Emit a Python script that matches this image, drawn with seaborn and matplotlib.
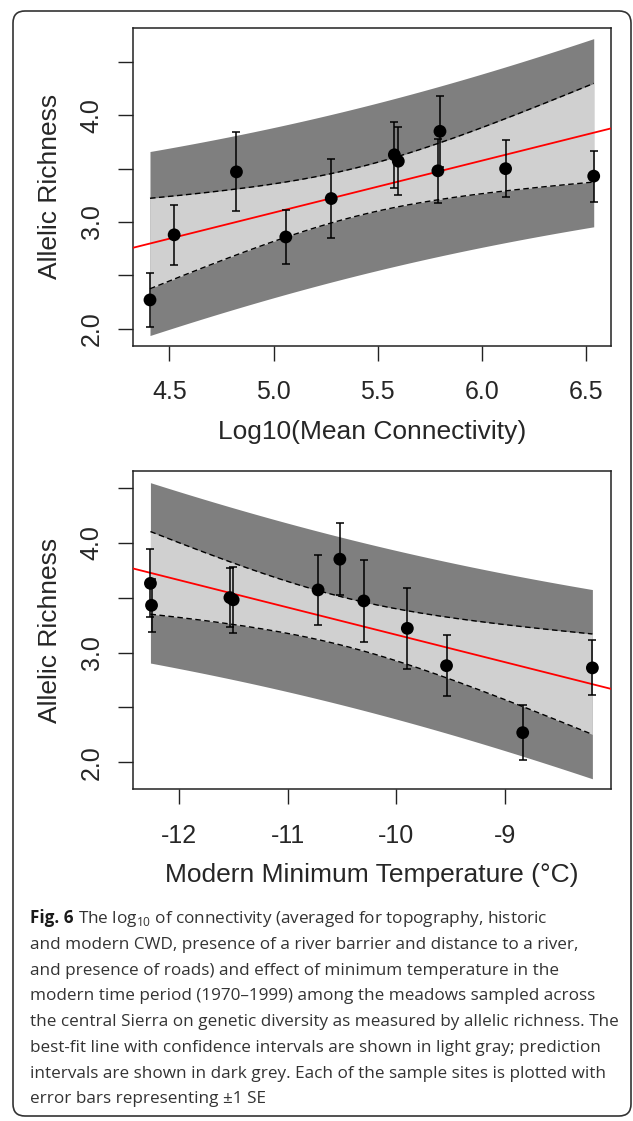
import numpy as np
import pandas as pd
import matplotlib
matplotlib.use("Agg")
import matplotlib.pyplot as plt
from matplotlib.patches import FancyBboxPatch
from matplotlib.transforms import IdentityTransform
import seaborn as sns

# values, one entry per meadow site
log_conn = [4.407, 4.523, 4.822, 5.059, 5.277, 5.580, 5.599, 5.799, 5.789, 6.114, 6.537]
min_temp = [-8.84, -9.54, -10.30, -8.20, -9.90, -12.26, -10.72, -10.52, -11.50, -11.53, -12.25]
allelic_richness = [2.27, 2.88, 3.47, 2.86, 3.22, 3.63, 3.57, 3.85, 3.48, 3.50, 3.43]
se = [0.25, 0.28, 0.37, 0.25, 0.37, 0.31, 0.32, 0.33, 0.30, 0.27, 0.24]

conn_ticks = [4.5, 5.0, 5.5, 6.0, 6.5]
conn_labels = ["4.5", "5.0", "5.5", "6.0", "6.5"]
temp_ticks = [-12, -11, -10, -9]
temp_labels = ["-12", "-11", "-10", "-9"]
ar_ticks = [2.0, 2.5, 3.0, 3.5, 4.0, 4.5]
ar_labels = ["2.0", "", "3.0", "", "4.0", ""]

caption = [
    "and modern CWD, presence of a river barrier and distance to a river,",
    "and presence of roads) and effect of minimum temperature in the",
    "modern time period (1970\u20131999) among the meadows sampled across",
    "the central Sierra on genetic diversity as measured by allelic richness. The",
    "best-fit line with confidence intervals are shown in light gray; prediction",
    "intervals are shown in dark grey. Each of the sample sites is plotted with",
    "error bars representing \u00b11 SE",
]

df = pd.DataFrame({"conn": log_conn, "temp": min_temp, "ar": allelic_richness, "se": se})

T975 = 2.262  # t quantile, 9 degrees of freedom

sns.set_style("ticks")
plt.rcParams["font.family"] = ["Liberation Sans", "DejaVu Sans"]

DARK = "#7f7f7f"
LIGHT = "#d0d0d0"
W, H = 633, 1121


def fit_panel(ax, xcol, xlim, ylim, xticks, xlabels, xlabel, xlab_y):
    x = df[xcol].to_numpy()
    y = df["ar"].to_numpy()
    b1, b0 = np.polyfit(x, y, 1)
    n = len(x)
    s = np.sqrt(np.sum((y - (b0 + b1 * x)) ** 2) / (n - 2))
    sxx = np.sum((x - x.mean()) ** 2)
    grid = np.linspace(x.min(), x.max(), 200)
    fit = b0 + b1 * grid
    ci = T975 * s * np.sqrt(1 / n + (grid - x.mean()) ** 2 / sxx)
    pi = T975 * s * np.sqrt(1 + 1 / n + (grid - x.mean()) ** 2 / sxx)

    ax.fill_between(grid, fit - pi, fit + pi, color=DARK, lw=0, zorder=1)
    ax.fill_between(grid, fit - ci, fit + ci, color=LIGHT, lw=0, zorder=2)
    ax.plot(grid, fit + ci, color="black", ls=(0, (4, 2.5)), lw=1.0, zorder=3)
    ax.plot(grid, fit - ci, color="black", ls=(0, (4, 2.5)), lw=1.0, zorder=3)
    ax.axline((0, b0), slope=b1, color="red", lw=1.3, zorder=4)

    ax.errorbar(df[xcol], df["ar"], yerr=df["se"], fmt="none", ecolor="black",
                elinewidth=1.1, capsize=3, capthick=1.1, zorder=5)
    sns.scatterplot(data=df, x=xcol, y="ar", ax=ax, color="black", s=85,
                    edgecolor="none", zorder=6)

    ax.set_xlim(xlim)
    ax.set_ylim(ylim)
    ax.set_xticks(xticks)
    ax.set_xticklabels(xlabels)
    ax.set_yticks(ar_ticks)
    ax.set_yticklabels(ar_labels)
    plt.setp(ax.get_yticklabels(), rotation=90, va="center")
    ax.tick_params(axis="both", length=11, width=1.0, color="#222222",
                   labelsize=18, direction="out")
    ax.tick_params(axis="x", pad=14)
    ax.tick_params(axis="y", pad=10)
    for sp in ax.spines.values():
        sp.set_visible(True)
        sp.set_color("#222222")
        sp.set_linewidth(1.1)

    ax.set_xlabel(xlabel, fontsize=19, va="center")
    ax.set_ylabel("Allelic Richness", fontsize=19, va="center")
    ax.xaxis.set_label_coords(0.5, xlab_y)
    ax.yaxis.set_label_coords((50 - 132.7) / 478.3, 0.5)


fig = plt.figure(figsize=(W / 100, H / 100), dpi=100)

ax1 = fig.add_axes([132.7 / W, (H - 345.7) / H, 478.3 / W, 318.0 / H])
fit_panel(ax1, "conn", (4.324, 6.62), (1.841, 4.821), conn_ticks, conn_labels,
          "Log10(Mean Connectivity)", (345.7 - 432) / 318.0)

ax2 = fig.add_axes([132.7 / W, (H - 789.3) / H, 478.3 / W, 318.6 / H])
fit_panel(ax2, "temp", (-12.423, -8.029), (1.754, 4.656), temp_ticks, temp_labels,
          "Modern Minimum Temperature (\u00b0C)", (789.3 - 875) / 318.6)

# rounded frame around figure and caption
frame = FancyBboxPatch((13, 5), 618, 1105, boxstyle="round,pad=0,rounding_size=12",
                       transform=IdentityTransform(), fill=False, ec="#333333", lw=1.2)
fig.patches.append(frame)

cap_font = ["Open Sans", "DejaVu Sans"]
cap_size = 12.3
base0 = 923.3
step = 25.7
t1 = fig.text(30 / W, 1 - base0 / H, "Fig. 6", fontfamily=cap_font, fontsize=cap_size,
              weight="bold", color="#1a1a1a", va="baseline")
fig.canvas.draw()
bb = t1.get_window_extent()
fig.text((bb.x1 + 4) / W, 1 - base0 / H,
         "The log$_\\mathregular{10}$ of connectivity (averaged for topography, historic",
         fontfamily=cap_font, fontsize=cap_size, color="#333333", va="baseline")
for i, line in enumerate(caption):
    fig.text(30 / W, 1 - (base0 + step * (i + 1)) / H, line, fontfamily=cap_font,
             fontsize=cap_size, color="#333333", va="baseline")

fig.savefig("out.png", dpi=100)
